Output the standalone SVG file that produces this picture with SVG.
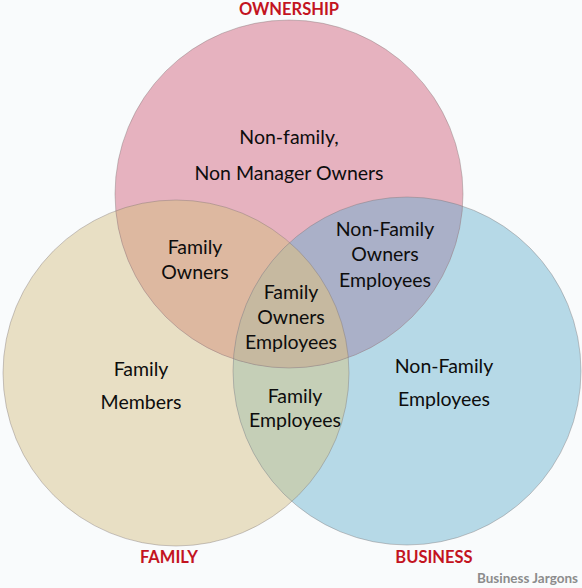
<svg xmlns="http://www.w3.org/2000/svg" width="582" height="588" viewBox="0 0 582 588">
<style>
.lbl{font-family:Lato,"Liberation Sans",sans-serif;font-size:19.5px;fill:#0d0d0d;text-anchor:middle}
.ttl{font-family:Lato,"Liberation Sans",sans-serif;font-size:16.5px;font-weight:bold;fill:#c3141f;text-anchor:middle}
.edge{fill:none;stroke:#7d7474;stroke-opacity:0.4;stroke-width:1}
</style>
<defs>
<clipPath id="cTop"><circle cx="289" cy="194" r="174"/></clipPath>
<clipPath id="cLeft"><circle cx="176" cy="373" r="173"/></clipPath>
<clipPath id="cRight"><circle cx="407" cy="371" r="174"/></clipPath>
</defs>
<rect width="582" height="588" fill="#f9fbfc"/>
<g id="circles">
<circle id="family" cx="176" cy="373" r="173" fill="#e8dfc4"/>
<circle id="business" cx="407" cy="371" r="174" fill="#b6d9e7"/>
<circle id="ownership" cx="289" cy="194" r="174" fill="#e6b2bf"/>
<circle id="family-business" cx="407" cy="371" r="174" fill="#c5cfb7" clip-path="url(#cLeft)"/>
<circle id="ownership-family" cx="176" cy="373" r="173" fill="#ddb8a0" clip-path="url(#cTop)"/>
<circle id="ownership-business" cx="407" cy="371" r="174" fill="#aab0c8" clip-path="url(#cTop)"/>
<g clip-path="url(#cTop)"><circle id="all-three" cx="407" cy="371" r="174" fill="#c6b9a0" clip-path="url(#cLeft)"/></g>
<circle class="edge" cx="176" cy="373" r="173"/>
<circle class="edge" cx="407" cy="371" r="174"/>
<circle class="edge" cx="289" cy="194" r="174"/>
</g>
<g id="titles">
<text class="ttl" x="289" y="15">OWNERSHIP</text>
<text class="ttl" x="169" y="563">FAMILY</text>
<text class="ttl" x="434" y="563">BUSINESS</text>
</g>
<g id="n-nonfamily-owners"><text class="lbl" x="289" y="144">Non-family,</text><text class="lbl" x="289" y="180">Non Manager Owners</text></g>
<g id="n-family-owners"><text class="lbl" x="195" y="254">Family</text><text class="lbl" x="195" y="279">Owners</text></g>
<g id="n-nonfamily-owner-employees"><text class="lbl" x="385" y="236">Non-Family</text><text class="lbl" x="385" y="261">Owners</text><text class="lbl" x="385" y="287">Employees</text></g>
<g id="n-family-owner-employees"><text class="lbl" x="291" y="299">Family</text><text class="lbl" x="291" y="324">Owners</text><text class="lbl" x="291" y="349">Employees</text></g>
<g id="n-family-members"><text class="lbl" x="141" y="376">Family</text><text class="lbl" x="141" y="409">Members</text></g>
<g id="n-family-employees"><text class="lbl" x="295" y="403">Family</text><text class="lbl" x="295" y="427">Employees</text></g>
<g id="n-nonfamily-employees"><text class="lbl" x="444" y="373">Non-Family</text><text class="lbl" x="444" y="406">Employees</text></g>
<g id="connectors"/>
<text x="578" y="583" text-anchor="end" font-family="Lato,'Liberation Sans',sans-serif" font-size="13.5" font-weight="bold" fill="#8c8c8c">Business Jargons</text>
</svg>
